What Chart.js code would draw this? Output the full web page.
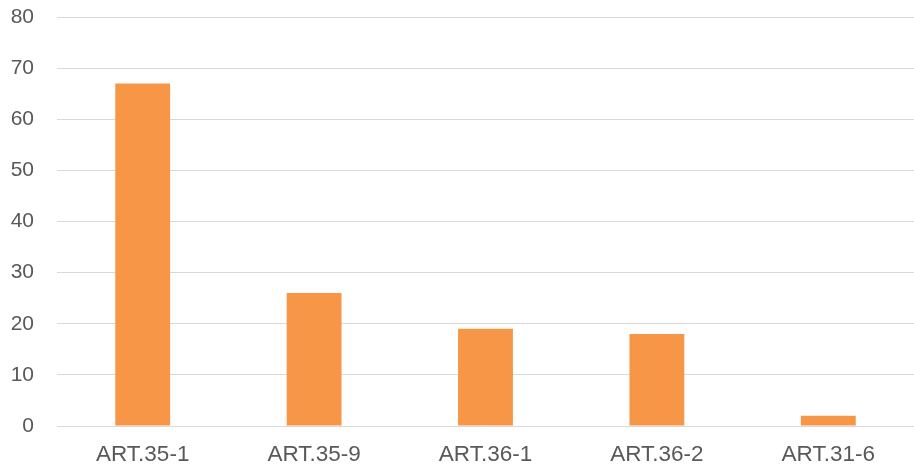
<!DOCTYPE html>
<html>
<head>
<meta charset="utf-8">
<script src="https://cdn.jsdelivr.net/npm/chart.js@4"></script>
<style>
html,body{margin:0;padding:0;background:#fff;}
#wrap{width:914px;height:468px;position:relative;}
</style>
</head>
<body>
<div id="wrap"><canvas id="c"></canvas></div>
<script>
const categories = ["ART.35-1", "ART.35-9", "ART.36-1", "ART.36-2", "ART.31-6"];
const values = [67, 26, 19, 18, 2];
const yTicks = [0, 10, 20, 30, 40, 50, 60, 70, 80];

new Chart(document.getElementById('c'), {
  type: 'bar',
  data: {
    labels: categories,
    datasets: [{
      data: values,
      backgroundColor: '#F79646',
      borderWidth: 0,
      barPercentage: 0.32,
      categoryPercentage: 1
    }]
  },
  options: {
    responsive: true,
    maintainAspectRatio: false,
    animation: false,
    layout: { padding: { top: 17, right: 0, bottom: 0, left: 0 } },
    plugins: { legend: { display: false }, tooltip: { enabled: false } },
    scales: {
      x: {
        afterFit: s => { s.height = 42; s.paddingLeft = 0; s.paddingRight = 0; },
        grid: { display: false, drawTicks: false },
        border: { display: false },
        ticks: { color: '#595959', font: { family: 'Liberation Sans, Arial, sans-serif', size: 22.5 }, padding: 15, maxRotation: 0 }
      },
      y: {
        min: 0, max: 80,
        afterFit: s => { s.width = 57; s.paddingTop = 0; s.paddingBottom = 0; },
        afterBuildTicks: s => { s.ticks = yTicks.map(v => ({ value: v })); },
        grid: { color: '#D9D9D9', lineWidth: 1, drawTicks: false },
        border: { display: false },
        ticks: { color: '#595959', font: { family: 'Liberation Sans, Arial, sans-serif', size: 21 }, padding: 23, stepSize: 10 }
      }
    }
  }
});
</script>
</body>
</html>
